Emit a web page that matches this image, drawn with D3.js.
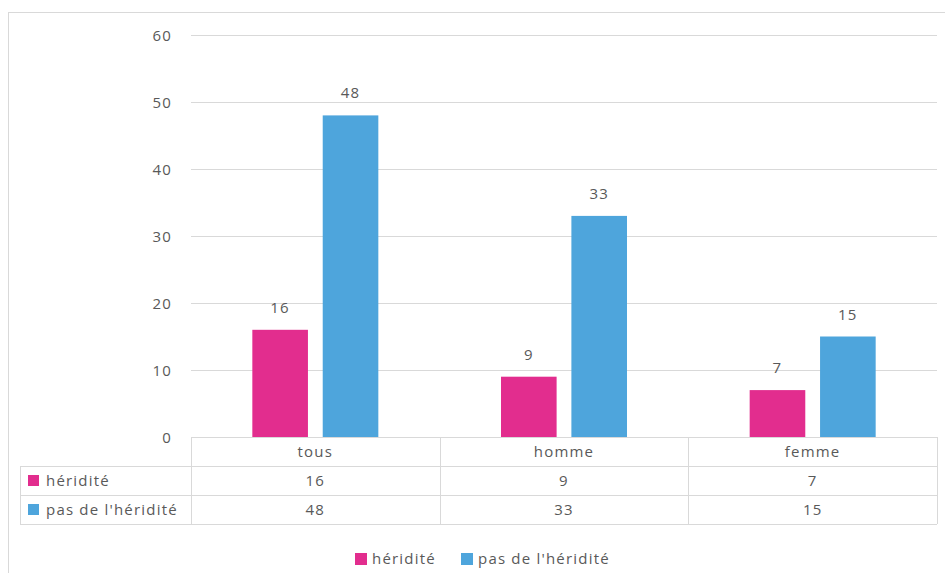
<!DOCTYPE html>
<html><head><meta charset="utf-8">
<script src="https://cdn.jsdelivr.net/npm/d3@7"></script>
<style>body{margin:0;background:#fff}svg{display:block}</style>
</head><body>
<script>
const categories = ["tous", "homme", "femme"];
const seriesNames = ["héridité", "pas de l'héridité"];
const heredite = [16, 9, 7];
const pasHeredite = [48, 33, 15];
const yTicks = [0, 10, 20, 30, 40, 50, 60];
const colors = ["#e22d8e", "#4ea5dc"];

const W = 945, H = 573;
const svg = d3.select("body").append("svg").attr("width", W).attr("height", H);
const font = "'Open Sans', 'Liberation Sans', sans-serif";
const txt = "#595959", grid = "#d9d9d9";
const fs = 15, ls = 1.2;
function styleText(sel) {
  return sel.attr("font-family", font).attr("font-size", fs).attr("fill", txt).attr("letter-spacing", ls);
}

// outer frame
svg.append("rect").attr("x", 8.5).attr("y", 12.5).attr("width", W).attr("height", H)
  .attr("fill", "none").attr("stroke", grid);

const pL = 191, pR = 937, pT = 35, pB = 437;
const x = d3.scaleBand().domain(categories).range([pL, pR]);
const y = d3.scaleLinear().domain([0, 60]).range([pB, pT]);
const series = [heredite, pasHeredite];
const xs = d3.scaleBand().domain([0, 1]).range([0, 126]).paddingInner(0.21);

// gridlines
svg.append("g").selectAll("line").data(yTicks).join("line")
  .attr("x1", pL).attr("x2", pR)
  .attr("y1", d => Math.round(y(d)) + 0.5).attr("y2", d => Math.round(y(d)) + 0.5)
  .attr("stroke", grid);

// y axis labels
const yAxis = d3.axisLeft(y).tickValues(yTicks).tickSize(0).tickPadding(0);
const ga = svg.append("g").attr("transform", `translate(172,0)`).call(yAxis);
ga.select(".domain").remove();
styleText(ga.selectAll("text")).attr("dy", "0.35em");

// bars
series.forEach((vals, si) => {
  const g = svg.append("g");
  g.selectAll("rect").data(vals).join("rect")
    .attr("x", (d, i) => x(categories[i]) + x.bandwidth() / 2 - 63 + xs(si))
    .attr("width", xs.bandwidth())
    .attr("y", d => y(d))
    .attr("height", d => pB - y(d))
    .attr("fill", colors[si]);
  styleText(g.selectAll("text").data(vals).join("text"))
    .attr("x", (d, i) => x(categories[i]) + x.bandwidth() / 2 - 63 + xs(si) + xs.bandwidth() / 2)
    .attr("y", d => y(d) - 17)
    .attr("text-anchor", "middle")
    .text(d => d);
});

// data table
const rowH = 29;
const rows = [pB, pB + rowH, pB + 2 * rowH, pB + 3 * rowH];
const tb = svg.append("g").attr("stroke", grid).attr("fill", "none");
tb.append("line").attr("x1", pL).attr("x2", pR).attr("y1", rows[0] + 0.5).attr("y2", rows[0] + 0.5);
[1, 2, 3].forEach(r => tb.append("line").attr("x1", 20).attr("x2", pR).attr("y1", rows[r] + 0.5).attr("y2", rows[r] + 0.5));
tb.append("line").attr("x1", 20.5).attr("x2", 20.5).attr("y1", rows[1]).attr("y2", rows[3]);
categories.concat(["__end"]).forEach((c, i) => {
  const xx = i < 3 ? x(c) : pR;
  tb.append("line").attr("x1", Math.round(xx) + 0.5).attr("x2", Math.round(xx) + 0.5).attr("y1", rows[0]).attr("y2", rows[3]);
});
styleText(svg.append("g").selectAll("text").data(categories).join("text"))
  .attr("x", d => x(d) + x.bandwidth() / 2).attr("y", rows[0] + 20)
  .attr("text-anchor", "middle")
  .text(d => d);
series.forEach((vals, si) => {
  const yy = rows[si + 1];
  svg.append("rect").attr("x", 28).attr("y", yy + 9).attr("width", 11).attr("height", 11).attr("fill", colors[si]);
  styleText(svg.append("text")).attr("x", 46).attr("y", yy + 20).text(seriesNames[si]);
  styleText(svg.append("g").selectAll("text").data(vals).join("text"))
    .attr("x", (d, i) => x(categories[i]) + x.bandwidth() / 2).attr("y", yy + 20)
    .attr("text-anchor", "middle")
    .text(d => d);
});

// legend
const legX = [355, 461];
seriesNames.forEach((n, si) => {
  svg.append("rect").attr("x", legX[si]).attr("y", 553).attr("width", 12).attr("height", 12).attr("fill", colors[si]);
  styleText(svg.append("text")).attr("x", legX[si] + 17).attr("y", 564).text(n);
});
</script>
</body></html>
